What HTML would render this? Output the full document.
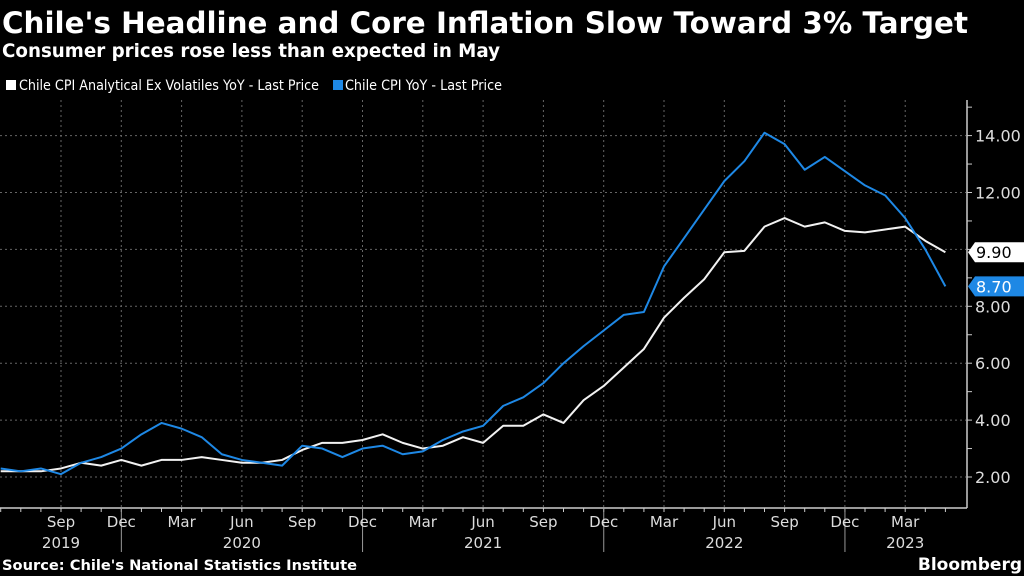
<!DOCTYPE html>
<html><head><meta charset="utf-8"><style>
html,body{margin:0;padding:0;background:#000;}
svg{display:block;font-family:"DejaVu Sans","Liberation Sans",sans-serif;}
</style></head><body>
<svg id="chart" width="1024" height="576" viewBox="0 0 1024 576">
<rect width="1024" height="576" fill="#000"/>
<text x="2" y="33" font-size="29" font-weight="bold" fill="#fff" textLength="966" lengthAdjust="spacingAndGlyphs">Chile's Headline and Core Inflation Slow Toward 3% Target</text>
<text x="2" y="57" font-size="19" font-weight="bold" fill="#fff" textLength="498" lengthAdjust="spacingAndGlyphs">Consumer prices rose less than expected in May</text>
<g>
<rect x="6" y="80" width="10" height="10" fill="#fff"/>
<text x="19" y="90" font-size="14" fill="#fff" textLength="300" lengthAdjust="spacingAndGlyphs">Chile CPI Analytical Ex Volatiles YoY - Last Price</text>
<rect x="333" y="80" width="10" height="10" fill="#1e88e5"/>
<text x="345" y="90" font-size="14" fill="#fff" textLength="157" lengthAdjust="spacingAndGlyphs">Chile CPI YoY - Last Price</text>
</g>
<g id="grid"></g>
<g id="axes"></g>
<g id="series"></g>
<g id="labels"></g>
<text x="2" y="570" font-size="14" font-weight="bold" fill="#fff" textLength="355" lengthAdjust="spacingAndGlyphs">Source: Chile's National Statistics Institute</text>
<text x="1022" y="570" font-size="17" font-weight="bold" fill="#fff" text-anchor="end">Bloomberg</text>
</svg>
<script>
const coreValues = [2.2,2.2,2.2,2.3,2.5,2.4,2.6,2.4,2.6,2.6,2.7,2.6,2.5,2.5,2.6,2.95,3.2,3.2,3.3,3.5,3.2,3.0,3.1,3.4,3.2,3.8,3.8,4.2,3.9,4.7,5.2,5.85,6.5,7.6,8.3,8.95,9.9,9.95,10.8,11.1,10.8,10.95,10.65,10.6,10.7,10.8,10.3,9.9];
const headlineValues = [2.3,2.2,2.3,2.1,2.5,2.7,3.0,3.5,3.9,3.7,3.4,2.8,2.6,2.5,2.4,3.1,3.0,2.7,3.0,3.1,2.8,2.9,3.3,3.6,3.8,4.5,4.8,5.3,6.0,6.6,7.15,7.7,7.8,9.4,10.4,11.4,12.4,13.1,14.1,13.7,12.8,13.25,12.75,12.25,11.9,11.1,10.0,8.7];
const yTicks = [2,4,6,8,12,14];
const yTickLabels = ["2.00","4.00","6.00","8.00","12.00","14.00"];
const monthLabels = ["Sep","Dec","Mar","Jun","Sep","Dec","Mar","Jun","Sep","Dec","Mar","Jun","Sep","Dec","Mar"];
const monthLabelIdx = [3,6,9,12,15,18,21,24,27,30,33,36,39,42,45];
const yearLabels = ["2019","2020","2021","2022","2023"];
const yearLabelIdx = [3,12,24,36,45];
const yearSepIdx = [6.5,18.5,30.5,42.5];

const NS="http://www.w3.org/2000/svg";
const X = i => 0.7 + i*20.1;
const Y = v => 477 - (v-2)*28.45;
function mk(tag, attrs, parent){const e=document.createElementNS(NS,tag);for(const k in attrs)e.setAttribute(k,attrs[k]);document.getElementById(parent).appendChild(e);return e;}

yTicks.concat([10]).forEach(v=>{
  const g=mk('line',{x1:0,x2:966,y1:Y(v),y2:Y(v),stroke:'#666','stroke-width':1,'stroke-dasharray':'2,3'},'grid');
  
  
});
monthLabelIdx.forEach(i=>{
  const g=mk('line',{x1:X(i),x2:X(i),y1:100,y2:508,stroke:'#666','stroke-width':1,'stroke-dasharray':'2,3'},'grid');
  
  
});
let a=mk('line',{x1:0,x2:967,y1:508,y2:508,stroke:'#ccc','stroke-width':1.5},'axes');


a=mk('line',{x1:967,x2:967,y1:100,y2:508,stroke:'#ccc','stroke-width':1.5},'axes');


for(let i=0;i<48;i++){
  const t=mk('line',{x1:X(i),x2:X(i),y1:508,y2:512,stroke:'#ccc'},'axes');
  
  
}
for(let v=2;v<=15;v+=1){
  const t=mk('line',{x1:967,x2:972,y1:Y(v),y2:Y(v),stroke:'#ccc'},'axes');
  
  
}
yearSepIdx.forEach(i=>{
  const t=mk('line',{x1:X(i)-10,x2:X(i)-10,y1:508,y2:552,stroke:'#999'},'axes');
  
  
});
monthLabelIdx.forEach((i,k)=>{
  const t=mk('text',{x:X(i),y:527,'font-size':15,fill:'#ddd','text-anchor':'middle'},'axes');
  t.textContent=monthLabels[k];
  
  
});
yearLabelIdx.forEach((i,k)=>{
  const t=mk('text',{x:X(i),y:548,'font-size':15,fill:'#ddd','text-anchor':'middle'},'axes');
  t.textContent=yearLabels[k];
  
  
});
yTicks.forEach((v,k)=>{
  const t=mk('text',{x:975,y:Y(v)+6,'font-size':16,fill:'#ddd'},'axes');
  t.textContent=yTickLabels[k];
  
  
});
function line(vals,color,name){
  const p=mk('polyline',{points:vals.map((v,i)=>X(i)+','+Y(v)).join(' '),fill:'none',stroke:color,'stroke-width':2,'stroke-linejoin':'round'},'series');
  
  
}
line(coreValues,'#f2f2f2','core-cpi-line');
line(headlineValues,'#1e88e5','headline-cpi-line');
function lastLabel(v,bg,fg,name){
  const y=Y(v);
  const p=mk('polygon',{points:`968,${y} 975,${y-10} 1024,${y-10} 1024,${y+10} 975,${y+10}`,fill:bg},'labels');
  
  
  const t=mk('text',{x:976,y:y+6,'font-size':16,fill:fg},'labels');
  t.textContent=v.toFixed(2);
  
  
}
lastLabel(coreValues[coreValues.length-1],'#fff','#000','core-last-value');
lastLabel(headlineValues[headlineValues.length-1],'#1e88e5','#fff','headline-last-value');
</script>
</body></html>
